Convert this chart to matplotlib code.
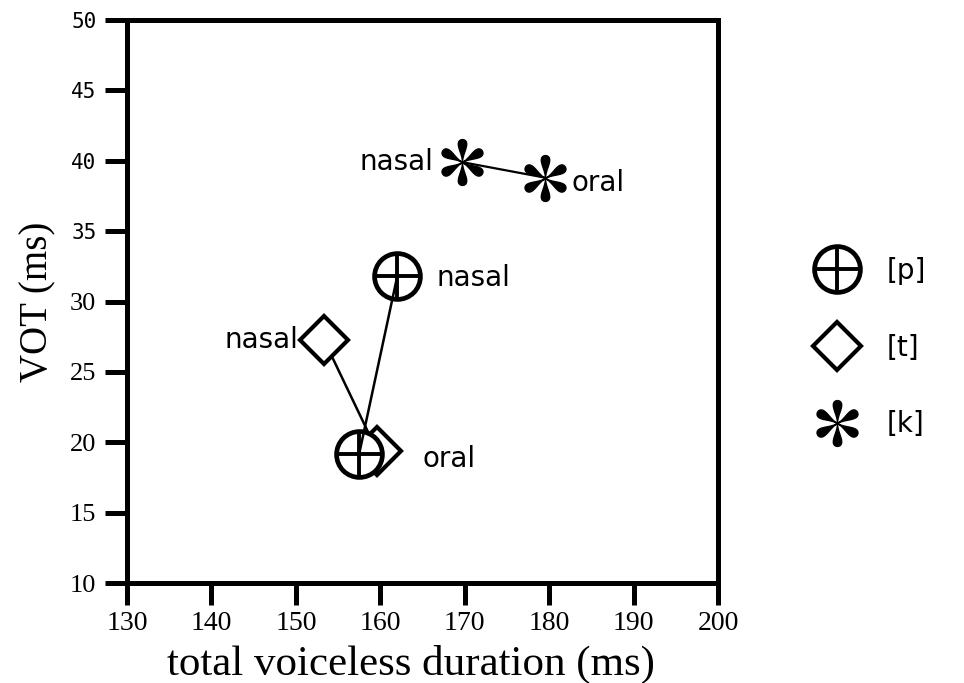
import numpy as np
import matplotlib
matplotlib.use('Agg')
import matplotlib.pyplot as plt
from matplotlib.path import Path
from matplotlib.legend_handler import HandlerTuple

# data: (total voiceless duration, VOT) for nasal / oral contexts
p_dur = [162.0, 157.5]
p_vot = [31.8, 19.2]
t_dur = [153.3, 159.6]
t_vot = [27.3, 19.4]
k_dur = [169.7, 179.5]
k_vot = [39.9, 38.8]

x_ticks = [130, 140, 150, 160, 170, 180, 190, 200]
y_ticks = [10, 15, 20, 25, 30, 35, 40, 45, 50]

serif = 'Liberation Serif'
sans = 'DejaVu Sans'


def teardrop_asterisk(n=6, m=3):
    # six teardrop spokes, points meeting in the middle
    t = np.linspace(0, 2 * np.pi, 90)
    u = (1 - np.cos(t)) / 2
    w = 0.32 * np.sin(t) * np.sin(t / 2) ** m
    paths = []
    for a in np.deg2rad(90 + np.arange(n) * 360 / n):
        ca, sa = np.cos(a), np.sin(a)
        xs = u * ca - w * sa
        ys = u * sa + w * ca
        paths.append(Path(np.column_stack([xs, ys]), closed=True))
    return Path.make_compound_path(*paths)


star = teardrop_asterisk()

fig = plt.figure(figsize=(9.64, 6.83), dpi=100)
ax = fig.add_axes([0.1317, 0.1464, 0.6134, 0.8243])

# connecting lines
ax.plot(t_dur, t_vot, color='black', lw=1.8, zorder=2)
ax.plot(k_dur, k_vot, color='black', lw=1.6, zorder=2)
td, = ax.plot(t_dur, t_vot, ls='none', marker='D', ms=24, mfc='white',
              mec='black', mew=3, zorder=3)
pc, = ax.plot(p_dur, p_vot, ls='none', marker='o', ms=33, mfc='white',
              mec='black', mew=3.4, zorder=4)
ax.plot(p_dur, p_vot, color='black', lw=1.8, zorder=5)
pp, = ax.plot(p_dur, p_vot, ls='none', marker='+', ms=34, mec='black',
              mew=2.8, zorder=6)
ks, = ax.plot(k_dur, k_vot, ls='none', marker=star, ms=33, mfc='black',
              mec='black', mew=1.0, zorder=6)

lab = dict(fontsize=20, family=sans, textcoords='offset points')
ax.annotate('nasal', (k_dur[0], k_vot[0]), xytext=(-21, 0), ha='right', va='center', **lab)
ax.annotate('oral', (k_dur[1], k_vot[1]), xytext=(19, -4), ha='left', va='center', **lab)
ax.annotate('nasal', (p_dur[0], p_vot[0]), xytext=(28, -1), ha='left', va='center', **lab)
ax.annotate('nasal', (t_dur[0], t_vot[0]), xytext=(-18, 0), ha='right', va='center', **lab)
ax.annotate('oral', (t_dur[1], t_vot[1]), xytext=(33, -6), ha='left', va='center', **lab)

ax.set_xlim(130, 200)
ax.set_ylim(10, 50)
ax.set_xticks(x_ticks)
ax.set_yticks(y_ticks)
ax.set_xticklabels([str(v) for v in x_ticks], family=serif, fontsize=20)
ax.set_yticklabels([str(v) for v in y_ticks], family=serif, fontsize=19)
for v, tl in zip(y_ticks, ax.get_yticklabels()):
    if v >= 35:
        tl.set_family('DejaVu Sans Mono')
        tl.set_fontsize(15)

for s in ax.spines.values():
    s.set_linewidth(3.6)
ax.tick_params(axis='both', direction='out', width=3.6, length=16)
ax.tick_params(axis='y', pad=6)
ax.tick_params(axis='x', pad=4)

ax.set_xlabel('total voiceless duration (ms)', family=serif, fontsize=31, labelpad=4)
ax.xaxis.set_label_coords(0.48, -0.11)
ax.set_ylabel('VOT (ms)', family=serif, fontsize=28, labelpad=10)

leg = ax.legend([(pc, pp), td, ks], ['[p]', '[t]', '[k]'],
                handler_map={tuple: HandlerTuple(ndivide=1)},
                loc='upper left', bbox_to_anchor=(0.822, 0.66),
                bbox_transform=fig.transFigure, frameon=False,
                prop={'family': sans, 'size': 20}, labelspacing=1.75,
                handlelength=1.4, handletextpad=1.1, markerscale=1.0)

plt.savefig('out.png', dpi=100)
